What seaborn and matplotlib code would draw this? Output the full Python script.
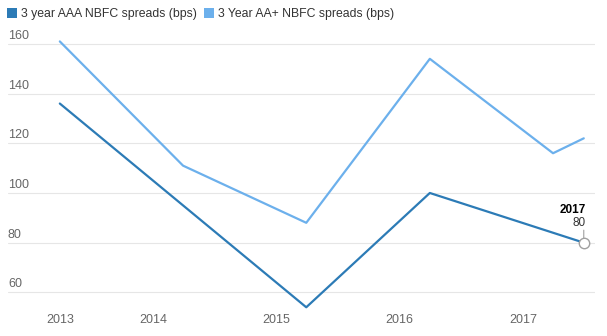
import numpy as np
import pandas as pd
import matplotlib
matplotlib.use("Agg")
import matplotlib.pyplot as plt
import matplotlib.dates as mdates
import matplotlib.transforms as mtrans
from matplotlib.lines import Line2D
import seaborn as sns

# ---- data ----
aaa_dates = ["2013-03-31", "2015-03-31", "2016-03-31", "2017-06-30"]
aaa_values = [136, 54, 100, 80]
aaplus_dates = ["2013-03-31", "2014-03-31", "2015-03-31", "2016-03-31", "2017-03-31", "2017-06-30"]
aaplus_values = [161, 111, 88, 154, 116, 122]
series_names = ["3 year AAA NBFC spreads (bps)", "3 Year AA+ NBFC spreads (bps)"]
x_tick_labels = ["2013", "2014", "2015", "2016", "2017"]
y_ticks = [60, 80, 100, 120, 140, 160]
highlight_label = "2017"
highlight_value = 80

colors = ["#2c7bb6", "#6cb0ec"]

df = pd.concat([
    pd.DataFrame({"date": pd.to_datetime(aaa_dates), "value": aaa_values, "series": series_names[0]}),
    pd.DataFrame({"date": pd.to_datetime(aaplus_dates), "value": aaplus_values, "series": series_names[1]}),
], ignore_index=True)

sns.set_theme(style="white")
plt.rcParams["font.family"] = ["Liberation Sans", "DejaVu Sans"]

W, H = 607, 336
fig = plt.figure(figsize=(W / 100, H / 100), dpi=100)
ax = fig.add_axes([8 / W, 1 - 310 / H, (595 - 8) / W, (310 - 30) / H])

sns.lineplot(data=df, x="date", y="value", hue="series", palette=colors,
             linewidth=1.6, ax=ax, legend=False, sort=True, estimator=None)

# axis limits (pixel-calibrated)
base = pd.Timestamp("2014-01-01")
px_per_day = 370 / 1096
ax.set_xlim(mdates.date2num(base - pd.Timedelta(days=145 / px_per_day)),
            mdates.date2num(base + pd.Timedelta(days=442 / px_per_day)))
ax.set_ylim(52.9, 165.6)

# x ticks: first at first data point, others at Jan 1
xt = [pd.to_datetime(aaa_dates[0])] + [pd.Timestamp(f"{y}-01-01") for y in x_tick_labels[1:]]
ax.set_xticks([mdates.date2num(d) for d in xt])
ax.set_xticklabels(x_tick_labels)
ax.tick_params(axis="x", length=0, pad=3, labelsize=9, labelcolor="#666666")

# y grid + labels above lines
ax.set_yticks(y_ticks)
ax.set_yticklabels([])
ax.tick_params(axis="y", length=0)
ax.grid(axis="y", color="#e6e6e6", linewidth=0.8)
ax.grid(axis="x", visible=False)
tr = mtrans.blended_transform_factory(ax.transAxes, ax.transData)
for t in y_ticks:
    ax.annotate(str(t), xy=(0, t), xycoords=tr, xytext=(0, 3.5), textcoords="offset points",
                ha="left", va="baseline", fontsize=9, color="#666666")

for s in ax.spines.values():
    s.set_visible(False)
ax.set_xlabel("")
ax.set_ylabel("")

# highlighted last point
hx = mdates.date2num(pd.to_datetime(aaa_dates[-1]))
ax.plot([hx], [highlight_value], marker="o", markersize=7.5, markerfacecolor="white",
        markeredgecolor="#a0a0a0", markeredgewidth=1.0, zorder=5)
ax.annotate("", xy=(hx, highlight_value), xytext=(0, 9), textcoords="offset points",
            arrowprops=dict(arrowstyle="-", color="#a0a0a0", lw=0.8, shrinkA=0, shrinkB=3.5))
ax.annotate(str(highlight_value), xy=(hx, highlight_value), xytext=(1.5, 10), textcoords="offset points",
            ha="right", va="bottom", fontsize=8.5, color="#333333")
ax.annotate(highlight_label, xy=(hx, highlight_value), xytext=(1.5, 19), textcoords="offset points",
            ha="right", va="bottom", fontsize=8.5, color="#000000", fontweight="bold")

# legend
handles = [Line2D([], [], marker="s", linestyle="none", markersize=7.4, color=c,
                  markeredgewidth=0) for c in colors]
fig.legend(handles, series_names, loc="upper left", bbox_to_anchor=(7 / W, 1 - 8 / H),
           ncol=2, frameon=False, fontsize=8.8, handlelength=0.85, handletextpad=0.3,
           columnspacing=0.6, borderaxespad=0.0, borderpad=0.0, labelcolor="#333333")

fig.savefig("out.png", dpi=100, facecolor="white")
